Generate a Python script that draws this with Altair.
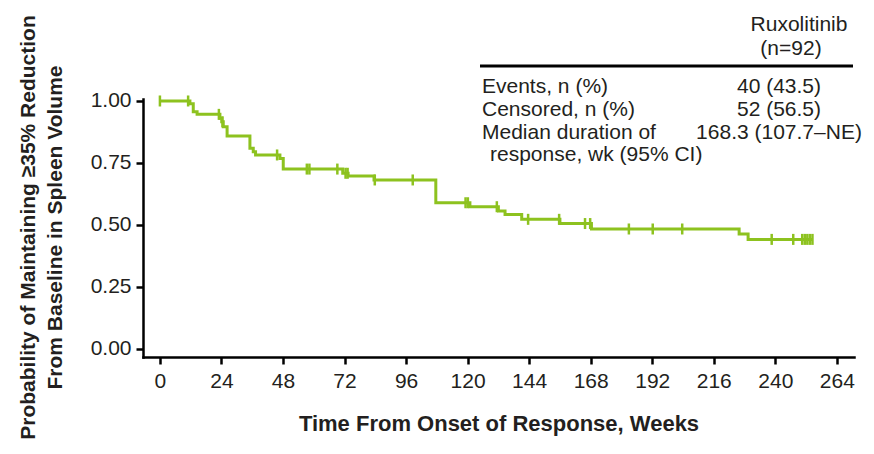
import altair as alt
import pandas as pd

# Kaplan-Meier step points (weeks, probability)
event_weeks = [0, 11.7, 13.0, 14.5, 23.4, 24.1, 24.7, 26.2, 35.1, 36.4, 37.3, 46.8, 48.1,
               71.3, 73.4, 83.5, 107.6, 120.9, 132.0, 134.6, 141.1, 156.0, 168.3,
               225.9, 229.4, 254.5]
survival = [1.0, 0.989, 0.957, 0.946, 0.930, 0.916, 0.896, 0.859, 0.809, 0.795, 0.782, 0.768, 0.725,
            0.708, 0.697, 0.681, 0.589, 0.573, 0.556, 0.542, 0.522, 0.505, 0.483,
            0.463, 0.441, 0.441]

# Censored observations (weeks)
censor_weeks = [0, 11.0, 23.0, 24.4, 45.7, 57.3, 58.3, 69.2, 72.4, 73.2, 83.8, 98.6,
                119.2, 120.1, 131.4, 143.6, 155.7, 165.8, 167.8, 182.9, 192.2, 203.7,
                238.6, 247.0, 250.5, 251.5, 252.5, 253.5, 254.5]

x_ticks = [0, 24, 48, 72, 96, 120, 144, 168, 192, 216, 240, 264]
y_ticks = [0.0, 0.25, 0.5, 0.75, 1.0]

table_header = ["Ruxolitinib", "(n=92)"]
table_rows = ["Events, n (%)", "Censored, n (%)", "Median duration of", "  response, wk (95% CI)"]
table_values = ["40 (43.5)", "52 (56.5)", "168.3 (107.7\u2013NE)"]


def surv_at(t):
    s = survival[0]
    for w, v in zip(event_weeks, survival):
        if w <= t:
            s = v
    return s


km = pd.DataFrame({"week": event_weeks, "prob": survival})
cens = pd.DataFrame({"week": censor_weeks, "prob": [surv_at(t) for t in censor_weeks]})

GREEN = "#8DC21F"
FONT = "Liberation Sans"
TXT = "#231F20"

xscale = alt.Scale(domain=[-6.6, 270.7], nice=False, zero=False)
yscale = alt.Scale(domain=[-0.034, 1.008], nice=False, zero=False)

xaxis = alt.Axis(values=x_ticks, format="d", title="Time From Onset of Response, Weeks",
                 titleFontSize=22, titleFontWeight="bold", titleY=66, titleBaseline="middle",
                 labelFontSize=21, labelPadding=6)
yaxis = alt.Axis(values=y_ticks, format=".2f",
                 title=["Probability of Maintaining \u226535% Reduction", "From Baseline in Spleen Volume"],
                 titleFontSize=21, titleFontWeight="bold", titleAngle=270, titleX=-115, titleY=128,
                 titleAlign="center", titleBaseline="middle", titleLineHeight=27,
                 labelFontSize=21, labelPadding=5)

line = alt.Chart(km).mark_line(interpolate="step-after", color=GREEN, strokeWidth=3).encode(
    x=alt.X("week:Q", scale=xscale, axis=xaxis),
    y=alt.Y("prob:Q", scale=yscale, axis=yaxis),
)

ticks = alt.Chart(cens).mark_tick(orient="vertical", color=GREEN, size=11, thickness=2.5, opacity=1).encode(
    x=alt.X("week:Q", scale=xscale),
    y=alt.Y("prob:Q", scale=yscale),
)

one = alt.Data(values=[{}])


def txt(s, x, y, align="left", size=21):
    return alt.Chart(one).mark_text(text=s, align=align, baseline="middle", font=FONT,
                                    fontSize=size, color=TXT).encode(
        x=alt.value(x), y=alt.value(y))


layers = [line, ticks]
layers.append(txt(table_header[0], 656, -74, "center"))
layers.append(txt(table_header[1], 648, -50, "center"))
layers.append(alt.Chart(one).mark_rule(color="black", strokeWidth=3).encode(
    x=alt.value(337), x2=alt.value(710), y=alt.value(-33)))
row_y = [-12, 11, 34, 56]
for lbl, yy in zip(table_rows, row_y):
    layers.append(txt(lbl.strip(), 339 if not lbl.startswith(" ") else 347, yy, "left"))
for val, yy in zip(table_values, row_y):
    layers.append(txt(val, 636, yy, "center"))

chart = alt.layer(*layers).properties(
    width=711, height=258,
    autosize=alt.AutoSizeParams(type="none"),
    padding={"left": 135, "top": 91, "right": 12, "bottom": 89},
).configure_view(stroke=None).configure_axis(
    grid=False, domainColor="black", domainWidth=2.5, domainCap="square",
    tickColor="black", tickWidth=2.5, tickSize=7,
    labelFont=FONT, titleFont=FONT, labelColor=TXT, titleColor=TXT,
)

chart.save("out.html", embed_options={"renderer": "svg", "actions": False})
